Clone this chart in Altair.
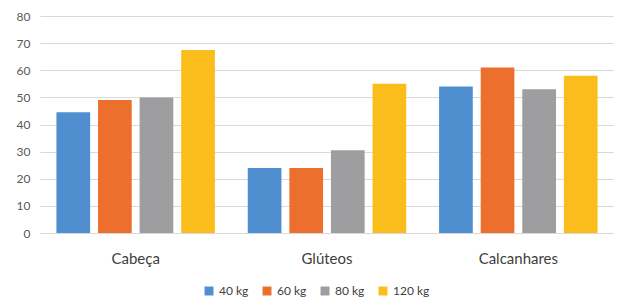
import altair as alt
import pandas as pd

categories = ["Cabeça", "Glúteos", "Calcanhares"]
series = ["40 kg", "60 kg", "80 kg", "120 kg"]
values_40 = [44.5, 24, 54]
values_60 = [49, 24, 61]
values_80 = [50, 30.5, 53]
values_120 = [67.5, 55, 58]
colors = ["#4f8fd0", "#ec6f2d", "#9e9da0", "#fbbd1c"]

rows = []
for s, vals in zip(series, [values_40, values_60, values_80, values_120]):
    for c, v in zip(categories, vals):
        rows.append({"parte": c, "peso": s, "valor": v})
df = pd.DataFrame(rows)

font = "Lato"

chart = alt.Chart(df).mark_bar().encode(
    x=alt.X("parte:N", sort=categories, title=None,
            scale=alt.Scale(paddingInner=0, paddingOuter={"expr": "-0.0206"}, align=0),
            axis=alt.Axis(labelAngle=0, labelFontSize=15, labelColor="#404040",
                          labelPadding=18, ticks=False, domain=False, labelFont=font)),
    xOffset=alt.XOffset("peso:N", sort=series,
                        scale=alt.Scale(paddingInner=0.19, paddingOuter=0.395)),
    y=alt.Y("valor:Q", title=None,
            scale=alt.Scale(domain=[0, 80]),
            axis=alt.Axis(values=[0, 10, 20, 30, 40, 50, 60, 70, 80], labelFontSize=12,
                          labelColor="#595959", labelPadding=10, ticks=False, domain=False,
                          gridColor="#d9d9d9", gridWidth=1, labelFont=font)),
    color=alt.Color("peso:N", sort=series,
                    scale=alt.Scale(domain=series, range=colors),
                    legend=alt.Legend(title=None, orient="none", direction="horizontal",
                                      legendX=163, legendY=269, symbolType="square",
                                      symbolSize=80, symbolStrokeWidth=0, labelFontSize=12,
                                      labelColor="#404040", columnPadding=12,
                                      labelFont=font, symbolOffset=0)),
).properties(
    width=574, height=217,
    padding={"left": 8, "top": 2, "right": 0, "bottom": 0},
).configure_view(stroke=None)

chart.save("out.html", embed_options={"renderer": "svg", "actions": False})
